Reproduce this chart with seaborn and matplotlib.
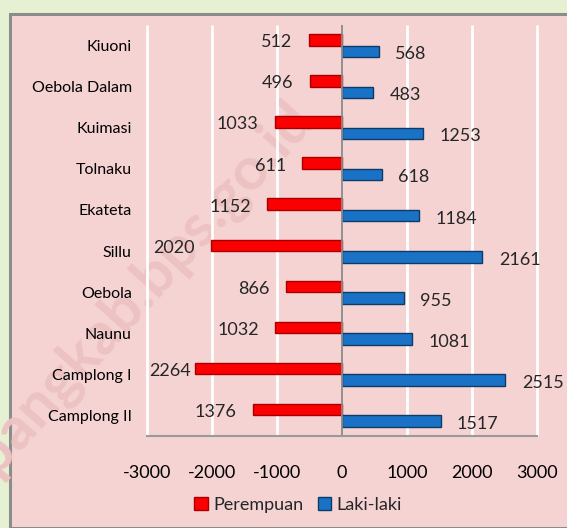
import pandas as pd
import matplotlib.pyplot as plt
import seaborn as sns
from matplotlib.patches import Rectangle, Patch

# data
desa = ["Kiuoni", "Oebola Dalam", "Kuimasi", "Tolnaku", "Ekateta",
        "Sillu", "Oebola", "Naunu", "Camplong I", "Camplong II"]
perempuan = [512, 496, 1033, 611, 1152, 2020, 866, 1032, 2264, 1376]
laki_laki = [568, 483, 1253, 618, 1184, 2161, 955, 1081, 2515, 1517]
x_ticks = [-3000, -2000, -1000, 0, 1000, 2000, 3000]

# long format, women to the left
df = pd.concat([
    pd.DataFrame({"Desa": desa, "Jumlah": [-v for v in perempuan], "Jenis": "Perempuan"}),
    pd.DataFrame({"Desa": desa, "Jumlah": laki_laki, "Jenis": "Laki-laki"}),
])

sns.set_theme(style="white")
plt.rcParams["font.family"] = ["Lato", "DejaVu Sans"]

green = "#E6F0D3"
pink = "#F5D3D3"
palette = {"Perempuan": "#FA0000", "Laki-laki": "#1A72C6"}
edges = {"Perempuan": "#A80000", "Laki-laki": "#0C3B69"}

fig = plt.figure(figsize=(5.67, 5.28), dpi=100, facecolor=green)
fig.patches.append(Rectangle((9.5 / 567, 0), 1, 1 - 13.5 / 528, transform=fig.transFigure,
                             facecolor=pink, edgecolor="#8C8C8C", linewidth=2.2, zorder=-2))

# watermark
fig.text(122 / 567, 1 - 312 / 528, "kupangkab.bps.go.id", rotation=48, ha="center", va="center",
         fontsize=43, fontweight="bold", color="#EDC2C2", zorder=-1)

ax = fig.add_axes([147 / 567, 1 - 436 / 528, 390 / 567, 411 / 528])
ax.set_facecolor("none")
ax.set_zorder(1)

sns.barplot(data=df, x="Jumlah", y="Desa", hue="Jenis", orient="h", order=desa,
            hue_order=["Perempuan", "Laki-laki"], palette=palette, saturation=1,
            width=0.56, legend=False, ax=ax, zorder=3)

for bar_group, jenis in zip(ax.containers, ["Perempuan", "Laki-laki"]):
    for b in bar_group:
        b.set_edgecolor(edges[jenis])
        b.set_linewidth(1.0)

ax.set_xlim(-3000, 3000)
ax.set_ylim(len(desa) - 0.5, -0.5)
ax.set_xticks(x_ticks)
ax.set_xticklabels([str(t) for t in x_ticks])
ax.set_xlabel("")
ax.set_ylabel("")

# vertical white gridlines
ax.vlines([t for t in x_ticks if t != 0], -0.5, len(desa) - 0.5, colors="#FFFFFF",
          linewidth=2.0, zorder=2, clip_on=False)
ax.axvline(0, color="#8A8A8A", lw=1.3, zorder=4)

for s in ["top", "right", "left"]:
    ax.spines[s].set_visible(False)
ax.spines["bottom"].set_color("#9A9A9A")
ax.spines["bottom"].set_linewidth(1.5)
ax.spines["bottom"].set_zorder(5)

ax.tick_params(axis="y", length=0, pad=11, labelsize=11.5, colors="black")
ax.tick_params(axis="x", length=0, pad=21, labelsize=13, colors="black")

# data labels
for i, (p, l) in enumerate(zip(perempuan, laki_laki)):
    ax.text(max(-p - 250, -2320), i - 0.08, str(p), ha="right", va="center", fontsize=13)
    ax.text(l + 250, i + 0.21, str(l), ha="left", va="center", fontsize=13)

handles = [Patch(facecolor=palette[k], edgecolor=edges[k], label=k) for k in ["Perempuan", "Laki-laki"]]
fig.legend(handles=handles, loc="center", bbox_to_anchor=(298 / 567, 1 - 505 / 528), ncol=2,
           frameon=False, fontsize=13, handlelength=0.75, handleheight=0.75,
           handletextpad=0.3, columnspacing=0.8)

fig.savefig("out.png", dpi=100, facecolor=green)
